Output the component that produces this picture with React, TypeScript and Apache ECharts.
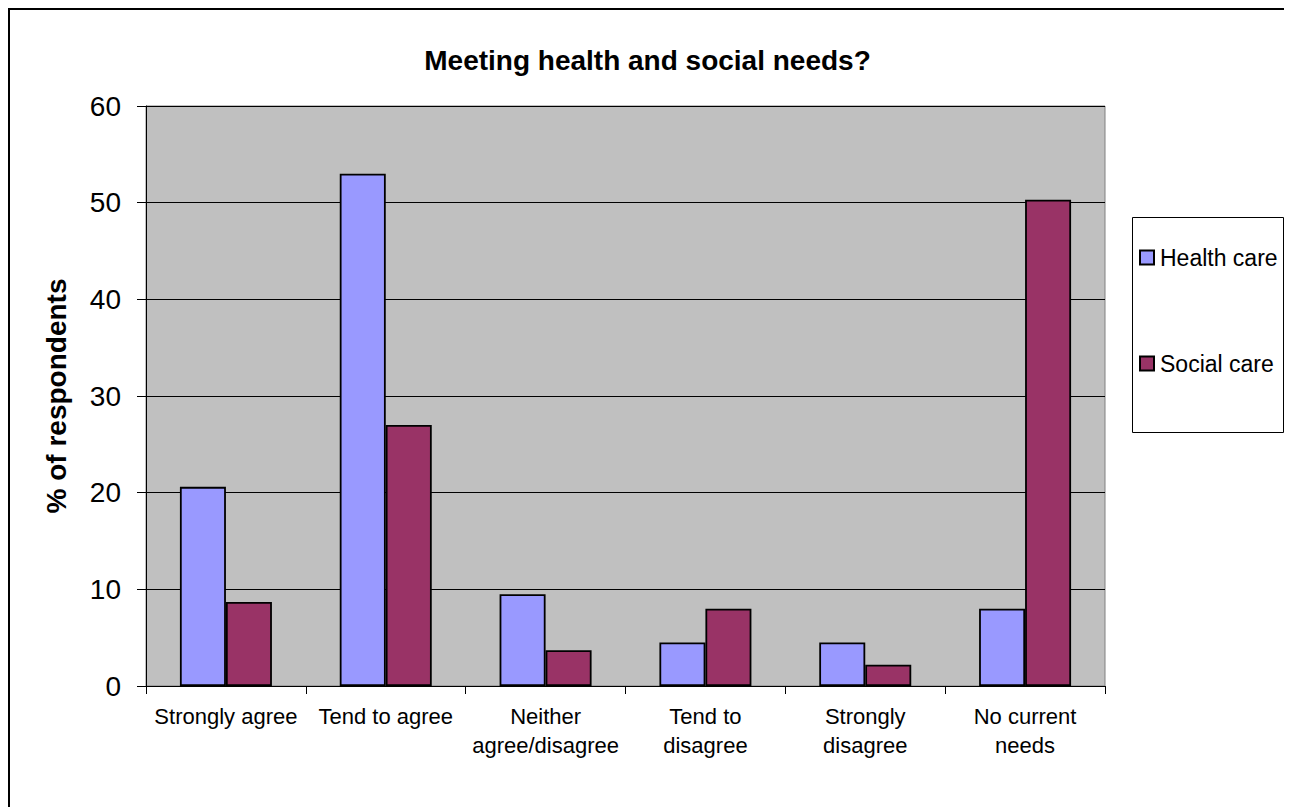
import React, { useEffect, useRef } from "react";
import * as echarts from "echarts";

const categories = [
  "Strongly agree",
  "Tend to agree",
  "Neither\nagree/disagree",
  "Tend to\ndisagree",
  "Strongly\ndisagree",
  "No current\nneeds",
];
const healthCare = [20.6, 53.0, 9.5, 4.5, 4.5, 8.0];
const socialCare = [8.7, 27.0, 3.7, 8.0, 2.2, 50.3];
const seriesNames = ["Health care", "Social care"];
const yTicks = { min: 0, max: 60, interval: 10 };
const titleText = "Meeting health and social needs?";
const yAxisName = "% of respondents";

const FONT = "'Liberation Sans', Arial, Helvetica, sans-serif";

export default function App() {
  const ref = useRef<HTMLDivElement>(null);
  useEffect(() => {
    if (!ref.current) return;
    const chart = echarts.init(ref.current, undefined, { renderer: "svg" });
    chart.setOption({
      animation: false,
      backgroundColor: "#ffffff",
      textStyle: { fontFamily: FONT },
      title: {
        text: titleText,
        left: "center",
        top: 31,
        textStyle: { fontFamily: FONT, fontSize: 28, fontWeight: "bold", color: "#000" },
      },
      graphic: [
        {
          type: "rect",
          z: -1,
          shape: { x: 1122.5, y: 207.5, width: 151, height: 215 },
          style: { fill: "#ffffff", stroke: "#000000", lineWidth: 1 },
        },
      ],
      legend: {
        orient: "vertical",
        left: 1129,
        top: 236,
        padding: 0,
        itemGap: 83,
        itemWidth: 14,
        itemHeight: 14,
        icon: "rect",
        textStyle: { fontFamily: FONT, fontSize: 23, color: "#000", padding: [0, 0, 0, 1] },
        data: seriesNames,
      },
      grid: {
        left: 136,
        top: 96,
        width: 959,
        height: 580,
        show: true,
        backgroundColor: "#C0C0C0",
        borderColor: "#808080",
        borderWidth: 1,
      },
      xAxis: {
        type: "category",
        data: categories,
        axisLine: { show: true, lineStyle: { color: "#000", width: 1 } },
        axisTick: { show: true, length: 8, lineStyle: { color: "#000" } },
        axisLabel: {
          interval: 0,
          margin: 16,
          fontFamily: FONT,
          fontSize: 22,
          lineHeight: 29,
          color: "#000",
        },
      },
      yAxis: {
        type: "value",
        min: yTicks.min,
        max: yTicks.max,
        interval: yTicks.interval,
        name: yAxisName,
        nameLocation: "middle",
        nameRotate: 90,
        nameGap: 76,
        nameTextStyle: { fontFamily: FONT, fontSize: 28, fontWeight: "bold", color: "#000" },
        axisLine: { show: true, lineStyle: { color: "#000", width: 1 } },
        axisTick: { show: true, length: 9, lineStyle: { color: "#000" } },
        axisLabel: { margin: 25, fontFamily: FONT, fontSize: 28, color: "#000" },
        splitLine: { show: true, lineStyle: { color: "#000", width: 1 } },
      },
      series: [
        {
          name: seriesNames[0],
          type: "bar",
          data: healthCare,
          barWidth: 46,
          barGap: "0%",
          itemStyle: { color: "#9999FF", borderColor: "#000", borderWidth: 1.8 },
        },
        {
          name: seriesNames[1],
          type: "bar",
          data: socialCare,
          barWidth: 46,
          barGap: "0%",
          itemStyle: { color: "#993366", borderColor: "#000", borderWidth: 1.8 },
        },
      ],
    });
    return () => chart.dispose();
  }, []);
  return (
    <div
      style={{
        width: 1279,
        height: 830,
        border: "2px solid #000",
        boxSizing: "border-box",
        background: "#fff",
      }}
    >
      <div ref={ref} style={{ width: 1275, height: 826 }} />
    </div>
  );
}
